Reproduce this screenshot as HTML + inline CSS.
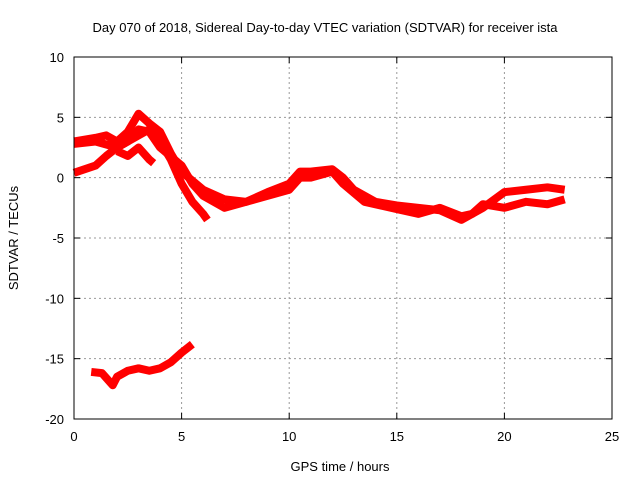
<!DOCTYPE html>
<html><head><meta charset="utf-8"><style>
body{margin:0;background:#fff}
svg{display:block;font-family:"Liberation Sans",sans-serif}
</style></head><body>
<svg id="c" width="640" height="480">
<rect x="0" y="0" width="640" height="480" fill="#fff"/>
<g id="grid"></g><g id="series"></g><g id="axes"></g>
<text x="325" y="32" text-anchor="middle" font-size="13">Day 070 of 2018, Sidereal Day-to-day VTEC variation (SDTVAR) for receiver ista</text>
<text x="340" y="471" text-anchor="middle" font-size="13">GPS time / hours</text>
<text transform="translate(18,238) rotate(-90)" text-anchor="middle" font-size="13">SDTVAR / TECUs</text>
</svg>
<script>
const xTicks=[0,5,10,15,20,25];
const yTicks=[10,5,0,-5,-10,-15,-20];
const sA_t=[0,1,1.5,2,2.5,3,3.5,4,4.5,5,6,7,8,9,10,10.5,11,12,12.5,13,14,15,16,17,18,19,20,21,22,22.8];
const sA_v=[3,3.3,3.5,3,3.8,5.3,4.5,3.8,2,0.5,-1,-1.8,-2,-1.2,-0.5,0.5,0.5,0.7,0,-1,-2,-2.3,-2.5,-2.7,-3.5,-2.5,-1.2,-1,-0.8,-1];
const sB_t=[0,1,1.5,2,3,3.5,4,4.5,5,5.5,6,6.2];
const sB_v=[0.4,1,1.8,2.5,3.5,4,3,1.5,-0.5,-2,-3,-3.5];
const sC_t=[0,1,2,2.5,3,3.5,4,5,5.5,6,7,8,9,10,10.5,11,12,12.5,13.5,15,16,17,18,18.5,19,20,21,22,22.8];
const sC_v=[2.8,3,2.5,3,4,3.8,2.5,1,-0.5,-1.5,-2.5,-2,-1.5,-1,0,0,0.5,-0.5,-2,-2.6,-3,-2.5,-3.2,-3,-2.2,-2.5,-2,-2.2,-1.8];
const sD_t=[2,2.5,3,3.5,3.7];
const sD_v=[2.2,1.8,2.5,1.5,1.2];
const sE_t=[0.8,1.3,1.8,2,2.5,3,3.5,4,4.5,5,5.5];
const sE_v=[-16.1,-16.2,-17.2,-16.5,-16,-15.8,-16,-15.8,-15.3,-14.5,-13.8];
const NS='http://www.w3.org/2000/svg';
const X0=74,X1=612,Y0=57,Y1=419;
const xs=v=>X0+(v-0)/(25-0)*(X1-X0);
const ys=v=>Y1-(v+20)/30*(Y1-Y0);
function mk(tag,attrs,parent){const e=document.createElementNS(NS,tag);for(const k in attrs)e.setAttribute(k,attrs[k]);parent.appendChild(e);return e;}
const grid=document.getElementById('grid'),axes=document.getElementById('axes'),ser=document.getElementById('series');
xTicks.forEach(t=>{
 if(t>0&&t<25){const l=mk('line',{x1:xs(t),x2:xs(t),y1:Y0,y2:Y1,stroke:'#999','stroke-dasharray':'2,3'},grid);
 
 }
 mk('line',{x1:xs(t),x2:xs(t),y1:Y1,y2:Y1-6,stroke:'#000'},axes);
 mk('line',{x1:xs(t),x2:xs(t),y1:Y0,y2:Y0+6,stroke:'#000'},axes);
 const tx=mk('text',{x:xs(t),y:Y1+22,'text-anchor':'middle','font-size':'13'},axes);tx.textContent=t;
 
 
});
yTicks.forEach(t=>{
 if(t>-20&&t<10){const l=mk('line',{x1:X0,x2:X1,y1:ys(t),y2:ys(t),stroke:'#999','stroke-dasharray':'2,3'},grid);
 
 }
 mk('line',{x1:X0,x2:X0+6,y1:ys(t),y2:ys(t),stroke:'#000'},axes);
 mk('line',{x1:X1,x2:X1-6,y1:ys(t),y2:ys(t),stroke:'#000'},axes);
 const tx=mk('text',{x:X0-10,y:ys(t)+5,'text-anchor':'end','font-size':'13'},axes);tx.textContent=t;
 
 
});
const fr=mk('rect',{x:X0,y:Y0,width:X1-X0,height:Y1-Y0,fill:'none',stroke:'#000'},axes);


[[sA_t,sA_v,'series-a'],[sB_t,sB_v,'series-b'],[sC_t,sC_v,'series-c'],[sD_t,sD_v,'series-d'],[sE_t,sE_v,'series-e']].forEach(([t,v,n])=>{
 const p=mk('polyline',{points:t.map((x,i)=>xs(x)+','+ys(v[i])).join(' '),fill:'none',stroke:'#f00','stroke-width':'8','stroke-linejoin':'round'},ser);
 
 
});
</script>
</body></html>
